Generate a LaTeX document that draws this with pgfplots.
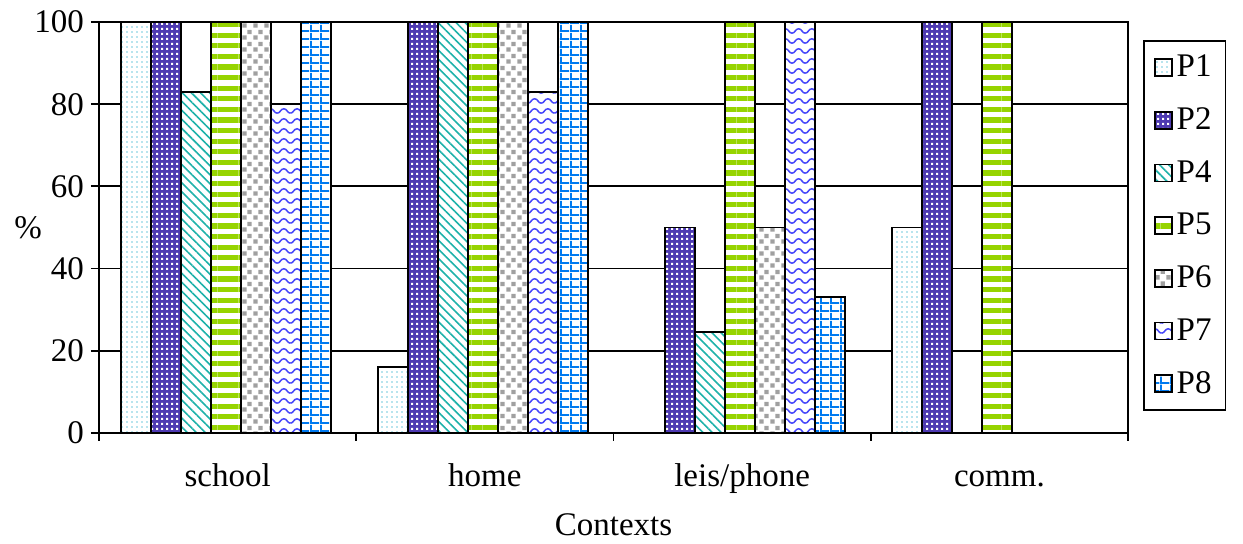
\documentclass[border=0pt]{standalone}
\usepackage{fontspec}
\setmainfont{Liberation Serif}
\usepackage{pgfplots}
\pgfplotsset{compat=1.18}
\usetikzlibrary{patterns,patterns.meta}
\definecolor{cP1}{RGB}{185,228,238}
\definecolor{cP2}{RGB}{78,58,178}
\definecolor{cP4}{RGB}{30,178,170}
\definecolor{cP5}{RGB}{150,212,0}
\definecolor{cP6}{RGB}{160,160,160}
\definecolor{cP7}{RGB}{70,70,250}
\definecolor{cP8}{RGB}{0,122,240}
\pgfdeclarepatternformonly{pdotsA}{\pgfqpoint{0pt}{0pt}}{\pgfqpoint{2.5pt}{2.5pt}}{\pgfqpoint{2.5pt}{2.5pt}}{%
  \pgfpathrectangle{\pgfqpoint{0.6pt}{0.6pt}}{\pgfqpoint{1.1pt}{1.1pt}}\pgfusepath{fill}}
\pgfdeclarepatternformonly{pdotsB}{\pgfqpoint{0pt}{0pt}}{\pgfqpoint{2.35pt}{2.35pt}}{\pgfqpoint{2.35pt}{2.35pt}}{%
  \pgfpathrectangle{\pgfqpoint{0.6pt}{0.6pt}}{\pgfqpoint{1.0pt}{1.0pt}}\pgfusepath{fill}}
\pgfdeclarepatternformonly{psquares}{\pgfqpoint{0pt}{0pt}}{\pgfqpoint{5.5pt}{6pt}}{\pgfqpoint{5.5pt}{6pt}}{%
  \pgfpathrectangle{\pgfqpoint{0.2pt}{0.2pt}}{\pgfqpoint{2.3pt}{2.3pt}}%
  \pgfpathrectangle{\pgfqpoint{2.95pt}{3.2pt}}{\pgfqpoint{2.3pt}{2.3pt}}\pgfusepath{fill}}
\pgfdeclarepatternformonly{pgridB}{\pgfqpoint{0pt}{0pt}}{\pgfqpoint{5pt}{4pt}}{\pgfqpoint{5pt}{4pt}}{%
  \pgfpathrectangle{\pgfqpoint{0pt}{0pt}}{\pgfqpoint{1pt}{4pt}}%
  \pgfpathrectangle{\pgfqpoint{0pt}{0pt}}{\pgfqpoint{5pt}{1pt}}\pgfusepath{fill}}
\pgfdeclarepatternformonly{pwave}{\pgfqpoint{-0.5pt}{-0.5pt}}{\pgfqpoint{7pt}{5pt}}{\pgfqpoint{6.6pt}{5pt}}{%
  \pgfsetlinewidth{0.75pt}%
  \pgfpathmoveto{\pgfqpoint{0pt}{0.4pt}}%
  \pgfpathcurveto{\pgfqpoint{1.6pt}{0.4pt}}{\pgfqpoint{1.6pt}{2.6pt}}{\pgfqpoint{3.3pt}{2.6pt}}%
  \pgfpathcurveto{\pgfqpoint{5.0pt}{2.6pt}}{\pgfqpoint{5.0pt}{0.4pt}}{\pgfqpoint{6.6pt}{0.4pt}}%
  \pgfusepath{stroke}}
\begin{document}
\begin{tikzpicture}
\begin{axis}[
  scale only axis,
  width=514.5pt, height=205.5pt,
  font=\fontsize{16.5}{19}\selectfont,
  /pgf/number format/assume math mode=true,
  ybar=0pt, bar width=15pt,
  xmin=-0.5, xmax=3.5, ymin=0, ymax=100,
  xtick={-0.5,0.5,1.5,2.5,3.5},
  x tick label as interval,
  xticklabels={school,home,leis/phone,comm.},
  xticklabel style={text height=12pt, text depth=4pt, yshift=-7pt},
  xlabel style={yshift=-3pt},
  ytick={0,20,40,60,80,100},
  ymajorgrids, grid style={black, line width=0.9pt},
  axis line style={black, line width=0.9pt},
  tick style={black, line width=0.9pt},
  tick align=outside, major tick length=4pt,
  xtick pos=bottom, ytick pos=left,
  xlabel={Contexts}, ylabel={\%},
  ylabel style={rotate=-90, at={(axis description cs:0,0.5)}, anchor=center, xshift=-35.5pt},
  legend image code/.code={\draw[#1] (0pt,-4.25pt) rectangle (8.5pt,4.25pt);},
  legend style={at={(1.0146,0.956)}, anchor=north west, draw=black, line width=0.9pt,
    font=\fontsize{16.5}{19}\selectfont, row sep=10pt, inner sep=5pt, nodes={inner sep=2pt}},
  legend cell align=left,
]
\addplot[bar shift=-46pt, draw=black, line width=0.9pt, preaction={fill=white}, pattern=pdotsA, pattern color=cP1] coordinates {(0,100) (1,16) (3,50)};
\addplot[bar shift=-31pt, draw=black, line width=0.9pt, preaction={fill=cP2}, pattern=pdotsB, pattern color=white] coordinates {(0,100) (1,100) (2,50) (3,100)};
\addplot[bar shift=-16pt, draw=black, line width=0.9pt, preaction={fill=white}, pattern={Lines[angle=-45,distance=3.2pt,line width=0.8pt]}, pattern color=cP4] coordinates {(0,83) (1,100) (2,24.5)};
\addplot[bar shift=-1pt, draw=black, line width=0.9pt, preaction={fill=white}, pattern={Lines[angle=0,distance=5.3pt,line width=2.6pt]}, pattern color=cP5] coordinates {(0,100) (1,100) (2,100) (3,100)};
\addplot[bar shift=14pt, draw=black, line width=0.9pt, preaction={fill=white}, pattern=psquares, pattern color=cP6] coordinates {(0,100) (1,100) (2,50)};
\addplot[bar shift=29pt, draw=black, line width=0.9pt, preaction={fill=white}, pattern=pwave, pattern color=cP7] coordinates {(0,80) (1,83) (2,100)};
\addplot[bar shift=44pt, draw=black, line width=0.9pt, preaction={fill=white}, pattern=pgridB, pattern color=cP8] coordinates {(0,100) (1,100) (2,33)};
\legend{P1,P2,P4,P5,P6,P7,P8}
\end{axis}
\path (current axis.south west) ++(-49.5pt,-55.5pt) rectangle ++(621.5pt,272pt);
\end{tikzpicture}
\end{document}
